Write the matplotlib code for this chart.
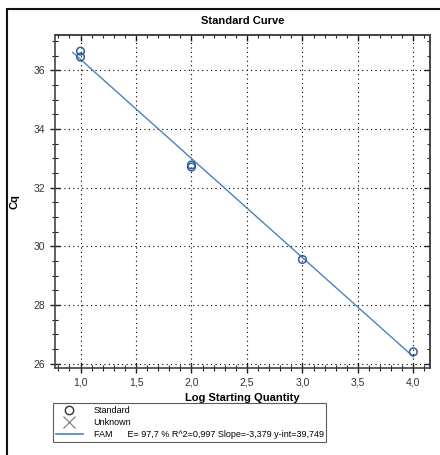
import numpy as np
import matplotlib
matplotlib.use("Agg")
import matplotlib.pyplot as plt
from matplotlib.lines import Line2D
from matplotlib.patches import Rectangle
from matplotlib.ticker import MultipleLocator, FormatStrFormatter, NullFormatter

# standard points (log starting quantity, Cq)
log_qty = [1.0, 1.0, 2.0, 2.0, 3.0, 4.0]
cq = [36.65, 36.45, 32.77, 32.70, 29.55, 26.40]

# fitted line
slope = -3.379
yint = 39.749
fit_x = [0.93, 4.0]

legend_labels = ["Standard", "Unknown",
                 "FAM      E= 97,7 % R^2=0,997 Slope=-3,379 y-int=39,749"]

plt.rcParams['font.family'] = ['Liberation Sans', 'DejaVu Sans']

fig = plt.figure(figsize=(4.4, 4.55), dpi=100)
ax = fig.add_axes([55/440, 1-368/455, 375/440, 333/455])

fx = np.array(fit_x)
ax.plot(fx, slope*fx + yint, color="#4f81bd", lw=1.0, zorder=2)
ax.scatter(log_qty, cq, s=30, facecolors='none', edgecolors="#2f5f9e", linewidths=1.1, zorder=3)

ax.set_xlim(0.77, 4.15)
ax.set_ylim(25.85, 37.2)


def set_locators(axis):
    axis.set_major_locator(MultipleLocator(0.5 if axis.axis_name == 'x' else 2))
    axis.set_minor_locator(MultipleLocator(0.1 if axis.axis_name == 'x' else 0.5))


set_locators(ax.xaxis)
set_locators(ax.yaxis)
fmt = lambda v, p: ("%.1f" % v).replace('.', ',')
ax.xaxis.set_major_formatter(plt.FuncFormatter(fmt))
ax.yaxis.set_major_formatter(FormatStrFormatter('%d'))

ax.tick_params(which='major', direction='inout', length=7, width=1, labelsize=7.5,
               colors='#222222', labelcolor='#333333')
ax.tick_params(which='minor', direction='inout', length=4, width=0.8, colors='#222222')

# inward ticks on top and right
top = ax.secondary_xaxis('top')
right = ax.secondary_yaxis('right')
for sec, axis in ((top, top.xaxis), (right, right.yaxis)):
    set_locators(axis)
    axis.set_major_formatter(NullFormatter())
    sec.tick_params(which='major', direction='in', length=4, width=1, colors='#222222')
    sec.tick_params(which='minor', direction='in', length=2.5, width=0.8, colors='#222222')
    for s in sec.spines.values():
        s.set_color('#444444')
        s.set_linewidth(1.2)

for s in ax.spines.values():
    s.set_color('#444444')
    s.set_linewidth(1.2)

ax.grid(True, which='major', color='black', linestyle=(0, (1, 3)), lw=0.8)

ax.set_title("Standard Curve", fontsize=8, fontweight='bold', pad=8)
ax.set_xlabel("Log Starting Quantity", fontsize=8, fontweight='bold', labelpad=4)
ax.set_ylabel("Cq", fontsize=8, fontweight='bold')
ax.yaxis.set_label_coords(-0.095, 0.5)

handles = [
    Line2D([], [], marker='o', ls='none', mfc='none', mec='#333333', ms=6),
    Line2D([], [], marker='x', ls='none', color='#777777', ms=9, mew=0.8),
    Line2D([], [], color='#4f81bd', lw=1.2),
]
leg = fig.legend(handles, legend_labels, loc='upper left',
                 bbox_to_anchor=(53/440, 1-403/455), fontsize=6.5,
                 frameon=True, fancybox=False, edgecolor='#333333',
                 handlelength=3, handletextpad=1.2, labelspacing=0.35,
                 borderpad=0.3, borderaxespad=0)
leg.get_frame().set_linewidth(0.8)

# outer frame
fig.patches.append(Rectangle((7/440, -0.1), 1.2, 1.1-9/455, transform=fig.transFigure,
                             fill=False, edgecolor='#111111', lw=1.5))

fig.savefig("out.png", dpi=100)
